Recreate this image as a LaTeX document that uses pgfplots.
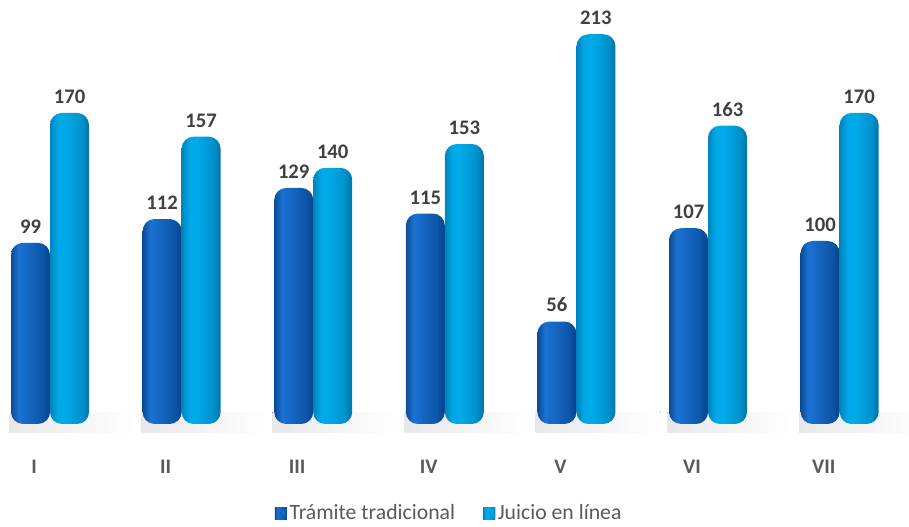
\documentclass[border=0pt]{standalone}
\usepackage{pgfplots}
\pgfplotsset{compat=1.18}
\usepackage{fontspec}
\setmainfont{Carlito}
\definecolor{lbl}{HTML}{404040}
\definecolor{tick}{HTML}{595959}
\definecolor{dkA}{HTML}{0A4B96}
\definecolor{dkB}{HTML}{1B72D2}
\definecolor{dkC}{HTML}{1668C4}
\definecolor{dkD}{HTML}{0D56A8}
\definecolor{dkE}{HTML}{07428A}
\definecolor{ltA}{HTML}{0084BE}
\definecolor{ltB}{HTML}{00A8E6}
\definecolor{ltC}{HTML}{00AAE8}
\definecolor{ltD}{HTML}{0092CE}
\definecolor{ltE}{HTML}{0074A8}
\pgfdeclarehorizontalshading{darkcyl}{100bp}{color(0bp)=(dkA); color(25bp)=(dkA); color(35bp)=(dkB); color(45bp)=(dkC); color(65bp)=(dkD); color(75bp)=(dkE); color(100bp)=(dkE)}
\pgfdeclarehorizontalshading{lightcyl}{100bp}{color(0bp)=(ltA); color(25bp)=(ltA); color(35bp)=(ltB); color(45bp)=(ltC); color(65bp)=(ltD); color(75bp)=(ltE); color(100bp)=(ltE)}
\pgfplotsset{
  dk/.style={draw=none, shading=darkcyl, rounded corners=9pt, bar shift=-14.625pt,
    legend image code/.code={\fill[dkC, sharp corners] (0pt,-4.5pt) rectangle (9pt,4.5pt); \fill[dkE, sharp corners] (9pt,-4.5pt) -- (9pt,4.5pt) -- (4.5pt,0pt) -- cycle;}},
  lt/.style={draw=none, shading=lightcyl, rounded corners=9pt, bar shift=14.625pt,
    legend image code/.code={\fill[ltC, sharp corners] (0pt,-4.5pt) rectangle (9pt,4.5pt); \fill[ltE, sharp corners] (9pt,-4.5pt) -- (9pt,4.5pt) -- (4.5pt,0pt) -- cycle;}},
}
\begin{document}
\begin{tikzpicture}
\useasboundingbox (0,0) rectangle (681.75pt,395.25pt);
\begin{axis}[
  at={(0pt,77.25pt)}, anchor=south west,
  scale only axis, width=681.75pt, height=318pt,
  xmin=-0.38, xmax=6.527, ymin=0, ymax=231.7,
  clip=false,
  axis line style={draw=none}, tick style={draw=none},
  ytick=\empty,
  xtick={0,...,6}, xticklabels={I,II,III,IV,V,VI,VII},
  xticklabel style={font=\fontsize{15.5}{18}\selectfont\bfseries, text=tick, xshift=-12pt, yshift=-19pt},
  ybar, bar width=29.25pt,
  /pgf/number format/assume math mode=true,
  nodes near coords,
  every node near coord/.append style={font=\fontsize{15.5}{18}\selectfont\bfseries, text=lbl, yshift=3.5pt},
  legend columns=2,
  legend style={draw=none, fill=none, at={(0.4945,-0.21)}, anchor=center,
    font=\fontsize{16.3}{19}\selectfont, text=tick,
    /tikz/every even column/.append style={column sep=19pt}},
]
% floor shadows
\pgfplotsinvokeforeach{0,...,6}{
  \fill[left color=black!9, right color=white] (axis cs:#1-0.31,-4.5) rectangle (axis cs:#1+0.64,6.5);
}
\addplot[dk] coordinates {(0,99)};
\addlegendentry{Trámite tradicional}
\addplot[dk, forget plot] coordinates {(1,112)};
\addplot[dk, forget plot] coordinates {(2,129)};
\addplot[dk, forget plot] coordinates {(3,115)};
\addplot[dk, forget plot] coordinates {(4,56)};
\addplot[dk, forget plot] coordinates {(5,107)};
\addplot[dk, forget plot] coordinates {(6,100)};
\addplot[lt] coordinates {(0,170)};
\addlegendentry{Juicio en línea}
\addplot[lt, forget plot] coordinates {(1,157)};
\addplot[lt, forget plot] coordinates {(2,140)};
\addplot[lt, forget plot] coordinates {(3,153)};
\addplot[lt, forget plot] coordinates {(4,213)};
\addplot[lt, forget plot] coordinates {(5,163)};
\addplot[lt, forget plot] coordinates {(6,170)};
\end{axis}
\end{tikzpicture}
\end{document}
